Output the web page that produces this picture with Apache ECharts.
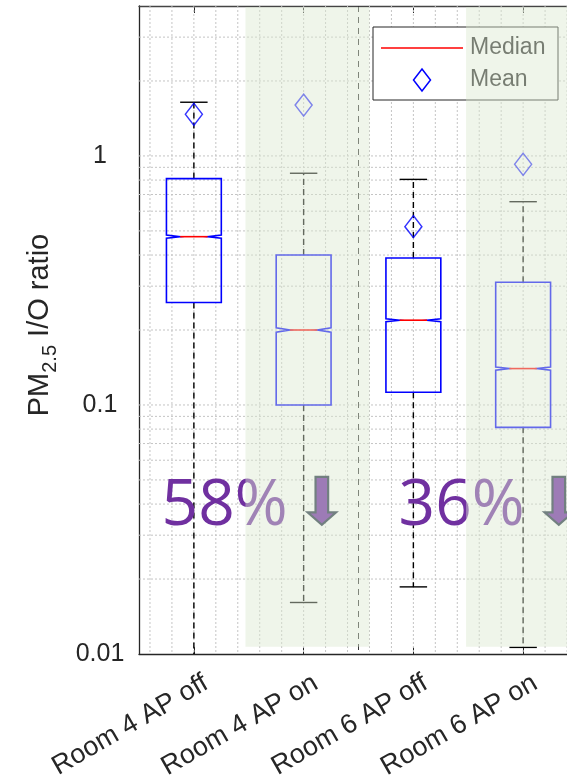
<!DOCTYPE html>
<html>
<head>
<meta charset="utf-8">
<script src="https://cdn.jsdelivr.net/npm/echarts@6/dist/echarts.min.js"></script>
<style>
html,body{margin:0;padding:0;background:#fff;}
#chart{width:567px;height:780px;}
</style>
</head>
<body>
<div id="chart"></div>
<script>
// ---- data ----
const categories = ['Room 4 AP off', 'Room 4 AP on', 'Room 6 AP off', 'Room 6 AP on'];
const positions = [1, 2, 3, 4];
const q1Values = [0.258, 0.100, 0.1125, 0.0813];
const medianValues = [0.474, 0.200, 0.219, 0.140];
const q3Values = [0.811, 0.400, 0.389, 0.311];
const whiskerLow = [0.008, 0.0161, 0.0186, 0.01063];
const whiskerHigh = [1.643, 0.852, 0.805, 0.655];
const notchLow = [0.467, 0.196, 0.216, 0.138];
const notchHigh = [0.481, 0.204, 0.222, 0.142];
const meanValues = [1.47, 1.60, 0.52, 0.926];

const yTickValues = [0.01, 0.1, 1];
const yTickLabels = ['0.01', '0.1', '1'];
const gridYValues = [0.02, 0.03, 0.04, 0.05, 0.06, 0.07, 0.08, 0.09, 0.1,
                     0.2, 0.3, 0.4, 0.5, 0.6, 0.7, 0.8, 0.9, 1, 2, 3];
const gridXValues = [0.6, 0.8, 1, 1.2, 1.4, 1.6, 1.8, 2, 2.2, 2.4, 2.6, 2.8,
                     3, 3.2, 3.4, 3.6, 3.8, 4, 4.2, 4.4];
const separatorX = [2.5];
const shadedFrom = [1.47, 3.48];
const shadedTo = [2.6, 4.5];
const shadedLow = [0.0107, 0.0107];
const shadedHigh = [3.96, 3.96];

const pctTexts = ['58%', '36%'];
const pctX = [1.28, 3.44];
const pctY = [0.0391, 0.0391];
const arrowX = [2.166, 4.325];
const arrowTop = [0.0514, 0.0514];
const arrowTip = [0.033, 0.033];

const legendNames = ['Median', 'Mean'];

// ---- chart ----
const chart = echarts.init(document.getElementById('chart'), null, {renderer: 'canvas'});
const FONT = '"Liberation Sans", Arial, sans-serif';
const AXIS_COLOR = '#262626';

function renderGridLines(params, api) {
  const cs = params.coordSys;
  const kind = api.value(0);
  const v = api.value(1);
  let shape;
  if (kind === 0) {
    const y = api.coord([1, v])[1];
    shape = {x1: cs.x, y1: y, x2: cs.x + cs.width, y2: y};
  } else {
    const x = api.coord([v, 1])[0];
    shape = {x1: x, y1: cs.y, x2: x, y2: cs.y + cs.height};
  }
  return {type: 'line', shape: shape,
    style: {stroke: '#c4c4c4', lineWidth: 1, lineDash: [2, 2]}};
}

function renderSeparator(params, api) {
  const cs = params.coordSys;
  const x = api.coord([api.value(0), 1])[0];
  return {type: 'line', shape: {x1: x, y1: cs.y, x2: x, y2: cs.y + cs.height},
    style: {stroke: '#333333', lineWidth: 1, lineDash: [6, 5]}};
}

function renderBox(params, api) {
  const x = api.value(0);
  const q1 = api.value(1), med = api.value(2), q3 = api.value(3);
  const lo = api.value(4), hi = api.value(5), nLo = api.value(6), nHi = api.value(7);
  const L = api.coord([x - 0.25, med])[0];
  const R = api.coord([x + 0.25, med])[0];
  const cx = api.coord([x, med])[0];
  const yQ1 = api.coord([x, q1])[1];
  const yQ3 = api.coord([x, q3])[1];
  const yMed = api.coord([x, med])[1];
  const yNLo = api.coord([x, nLo])[1];
  const yNHi = api.coord([x, nHi])[1];
  const yLo = api.coord([x, lo])[1];
  const yHi = api.coord([x, hi])[1];
  const ins = (R - L) / 4;
  const cap = (R - L) / 4;
  const whisk = {stroke: '#000000', lineWidth: 1.4, lineDash: [6, 4]};
  const capStyle = {stroke: '#000000', lineWidth: 1.4};
  return {
    type: 'group',
    children: [
      {type: 'line', shape: {x1: cx, y1: yQ3, x2: cx, y2: yHi}, style: whisk},
      {type: 'line', shape: {x1: cx, y1: yQ1, x2: cx, y2: yLo}, style: whisk},
      {type: 'line', shape: {x1: cx - cap, y1: yHi, x2: cx + cap, y2: yHi}, style: capStyle},
      {type: 'line', shape: {x1: cx - cap, y1: yLo, x2: cx + cap, y2: yLo}, style: capStyle},
      {type: 'polygon', shape: {points: [
        [L, yQ3], [R, yQ3], [R, yNHi], [R - ins, yMed], [R, yNLo], [R, yQ1],
        [L, yQ1], [L, yNLo], [L + ins, yMed], [L, yNHi]
      ]}, style: {fill: 'none', stroke: '#0000ff', lineWidth: 1.6}},
      {type: 'line', shape: {x1: L + ins, y1: yMed, x2: R - ins, y2: yMed},
        style: {stroke: '#ff0000', lineWidth: 1.6}}
    ]
  };
}

function renderPct(params, api) {
  const p = api.coord([api.value(0), api.value(1)]);
  return {type: 'text', style: {
    text: pctTexts[params.dataIndex], x: p[0], y: p[1],
    fill: '#7030a0', font: '400 64px "Open Sans", sans-serif',
    align: 'center', verticalAlign: 'middle', textAlign: 'center', textVerticalAlign: 'middle'
  }};
}

function renderArrow(params, api) {
  const top = api.coord([api.value(0), api.value(1)]);
  const tip = api.coord([api.value(0), api.value(2)]);
  const cx = top[0];
  const headStart = tip[1] - 12.5;
  const sw = 6.3, hw = 14.2;
  return {type: 'polygon', shape: {points: [
    [cx - sw, top[1]], [cx + sw, top[1]], [cx + sw, headStart], [cx + hw, headStart],
    [cx, tip[1]], [cx - hw, headStart], [cx - sw, headStart]
  ]}, style: {fill: '#6a22a0', stroke: '#1c2b3f', lineWidth: 2.2, lineJoin: 'miter'}};
}

function renderShade(params, api) {
  const p1 = api.coord([api.value(0), api.value(3)]);
  const p2 = api.coord([api.value(1), api.value(2)]);
  return {type: 'rect', shape: {x: p1[0], y: p1[1], width: p2[0] - p1[0], height: p2[1] - p1[1]},
    style: {fill: 'rgba(219,233,208,0.45)'}};
}

const gridData = gridYValues.map(v => [0, v]).concat(gridXValues.map(v => [1, v]));
const boxData = positions.map((x, i) => [x, q1Values[i], medianValues[i], q3Values[i],
  whiskerLow[i], whiskerHigh[i], notchLow[i], notchHigh[i]]);
const meanData = positions.map((x, i) => [x, meanValues[i]]);
const pctData = pctX.map((x, i) => [x, pctY[i]]);
const arrowData = arrowX.map((x, i) => [x, arrowTop[i], arrowTip[i]]);
const shadeData = shadedFrom.map((x, i) => [x, shadedTo[i], shadedLow[i], shadedHigh[i]]);

const option = {
  backgroundColor: '#ffffff',
  animation: false,
  grid: {left: 139, top: 6, width: 439, height: 648, containLabel: false, outerBoundsMode: 'none'},
  xAxis: [
    {type: 'value', min: 0.5, max: 4.5, show: false},
    {type: 'category', data: categories, position: 'bottom', boundaryGap: true,
      axisLine: {show: true, lineStyle: {color: AXIS_COLOR, width: 1.3}},
      axisTick: {show: true, inside: true, alignWithLabel: true, length: 7, lineStyle: {color: AXIS_COLOR}},
      splitLine: {show: false},
      axisLabel: {show: true, rotate: 30, interval: 0, fontFamily: FONT, fontSize: 27, color: AXIS_COLOR,
        align: 'right', verticalAlign: 'top', padding: [11, 0, 0, 0], margin: 6}},
    {type: 'category', data: categories, position: 'top', boundaryGap: true,
      axisLine: {show: true, lineStyle: {color: '#444444', width: 1.3}},
      axisTick: {show: true, inside: true, alignWithLabel: true, length: 7, lineStyle: {color: AXIS_COLOR}},
      axisLabel: {show: false}, splitLine: {show: false}}
  ],
  yAxis: [{
    type: 'log', logBase: 10, min: 0.01, max: 4,
    axisLine: {show: true, lineStyle: {color: AXIS_COLOR, width: 1.3}},
    axisTick: {show: false},
    splitLine: {show: false},
    minorTick: {show: false},
    axisLabel: {
      fontFamily: FONT, fontSize: 25, color: AXIS_COLOR, align: 'center', margin: 39,
      padding: [11, 0, 0, 0],
      formatter: function (v) {
        const k = yTickValues.findIndex(t => Math.abs(Math.log10(v) - Math.log10(t)) < 1e-6);
        return k >= 0 ? yTickLabels[k] : '';
      }
    },
    name: 'PM{sub|2.5} I/O ratio',
    nameLocation: 'middle', nameRotate: 90, nameGap: 79,
    nameTextStyle: {fontFamily: FONT, fontSize: 29, color: AXIS_COLOR, lineHeight: 40,
      padding: [0, 0, 0, 10],
      rich: {sub: {fontFamily: FONT, fontSize: 20, color: AXIS_COLOR, verticalAlign: 'bottom', lineHeight: 40}}}
  }],
  graphic: [
    {type: 'rect', z: 5, shape: {x: 373, y: 27, width: 185, height: 73},
      style: {fill: '#ffffff', stroke: '#262626', lineWidth: 1}},
    {type: 'line', z: 5, shape: {x1: 381, y1: 48, x2: 463, y2: 48},
      style: {stroke: '#ff0000', lineWidth: 1.5}},
    {type: 'polygon', z: 5, shape: {points: [[422, 69], [430.5, 80], [422, 91], [413.5, 80]]},
      style: {fill: 'none', stroke: '#0000ff', lineWidth: 1.5}},
    {type: 'text', z: 5, style: {text: legendNames[0], x: 470, y: 48, fill: '#262626',
      font: '23px "Liberation Sans", Arial, sans-serif', verticalAlign: 'middle', textVerticalAlign: 'middle'}},
    {type: 'text', z: 5, style: {text: legendNames[1], x: 470, y: 80, fill: '#262626',
      font: '23px "Liberation Sans", Arial, sans-serif', verticalAlign: 'middle', textVerticalAlign: 'middle'}}
  ],
  series: [
    {type: 'custom', name: 'grid', xAxisIndex: 0, yAxisIndex: 0, z: 1, silent: true,
      renderItem: renderGridLines, data: gridData},
    {type: 'custom', name: 'separator', xAxisIndex: 0, yAxisIndex: 0, z: 2, silent: true,
      renderItem: renderSeparator, data: separatorX.map(x => [x])},
    {type: 'custom', name: 'Median', xAxisIndex: 0, yAxisIndex: 0, z: 3, clip: true,
      renderItem: renderBox, data: boxData},
    {type: 'scatter', name: 'Mean', xAxisIndex: 0, yAxisIndex: 0, z: 3,
      symbol: 'diamond', symbolSize: [17, 22],
      itemStyle: {color: 'rgba(0,0,0,0)', borderColor: '#0000ff', borderWidth: 1.5},
      data: meanData},
    {type: 'custom', name: 'pct', xAxisIndex: 0, yAxisIndex: 0, z: 3,
      renderItem: renderPct, data: pctData},
    {type: 'custom', name: 'arrows', xAxisIndex: 0, yAxisIndex: 0, z: 3,
      renderItem: renderArrow, data: arrowData},
    {type: 'custom', name: 'shade', xAxisIndex: 0, yAxisIndex: 0, z: 10, silent: true,
      renderItem: renderShade, data: shadeData}
  ]
};
chart.setOption(option);
</script>
</body>
</html>
